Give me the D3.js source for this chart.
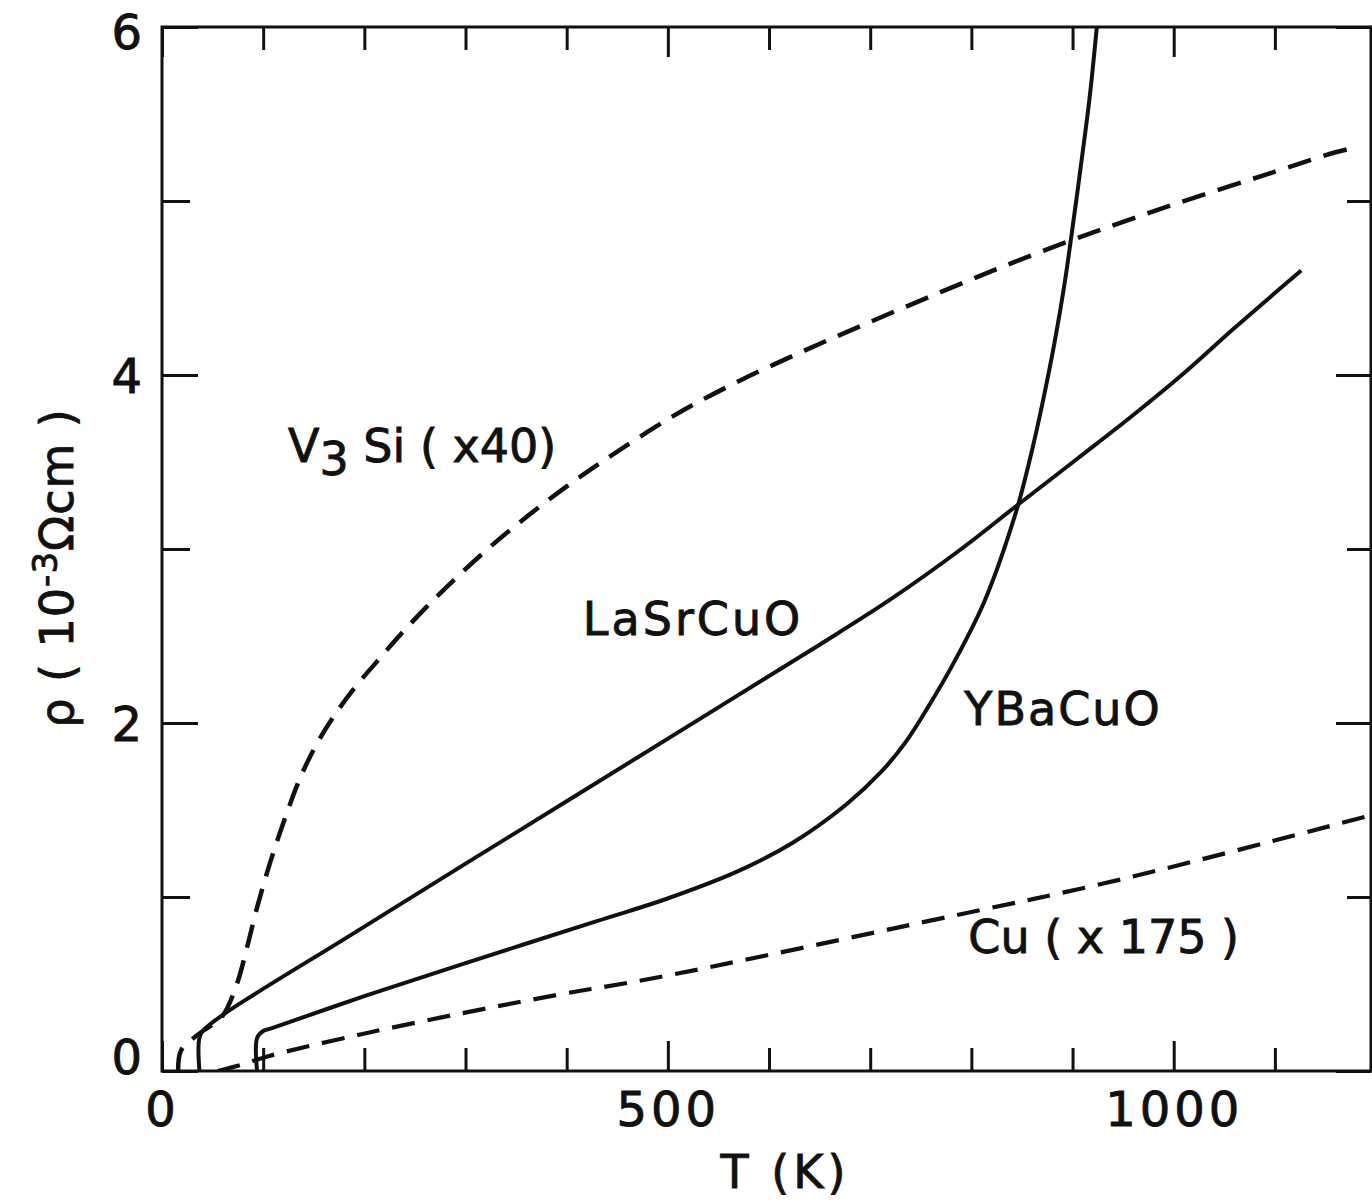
<!DOCTYPE html>
<html><head><meta charset="utf-8">
<script src="https://cdn.jsdelivr.net/npm/d3@7"></script>
<style>
html,body{margin:0;padding:0;background:#fff;}
svg{display:block;}
text{font-family:"DejaVu Sans",sans-serif;fill:#111;stroke:#111;stroke-width:0.9px;}
</style></head><body>
<svg id="chart" width="1372" height="1204"></svg>
<script>
// ---- data ----
const xMajorTicks = [0, 500, 1000];
const xMinorTicks = [100, 200, 300, 400, 600, 700, 800, 900, 1100];
const yMajorTicks = [0, 2, 4, 6];
const yMinorTicks = [1, 3, 5];

const v3siT = [16, 19, 38, 59, 74, 84, 94, 107, 122, 137, 153, 170, 190, 212, 236, 262, 290, 320, 355, 400, 450, 510, 572, 635, 698, 767, 834, 897, 950, 1005, 1085, 1160, 1174];
const v3siR = [0, 0.12, 0.22, 0.31, 0.50, 0.71, 0.94, 1.20, 1.46, 1.69, 1.88, 2.04, 2.20, 2.35, 2.51, 2.67, 2.83, 2.99, 3.16, 3.36, 3.56, 3.78, 3.97, 4.14, 4.30, 4.47, 4.63, 4.77, 4.88, 4.99, 5.14, 5.28, 5.30];

const lasrT = [37, 37, 42, 200, 400, 550, 650, 720, 790, 845, 905, 960, 1010, 1060, 1126];
const lasrR = [0, 0.19, 0.24, 0.83, 1.55, 2.09, 2.45, 2.71, 3.00, 3.25, 3.52, 3.77, 4.01, 4.27, 4.60];

const ybaT = [94, 94, 100, 108, 200, 300, 429, 499, 570, 623, 676, 711, 735, 757, 782, 813, 844, 858, 870, 882, 892, 901, 910, 917, 924];
const ybaR = [0, 0.19, 0.23, 0.245, 0.43, 0.62, 0.86, 0.99, 1.15, 1.31, 1.53, 1.72, 1.89, 2.09, 2.34, 2.70, 3.21, 3.52, 3.83, 4.18, 4.52, 4.89, 5.28, 5.60, 6.0];

const cuT = [55, 75, 105, 196, 295, 393, 492, 764, 947, 1195];
const cuR = [0, 0.03, 0.085, 0.21, 0.33, 0.44, 0.54, 0.87, 1.10, 1.47];

// ---- layout ----
const svg = d3.select("#chart");
const L = 162, R = 1371, T0 = 27, B = 1071;
const x = d3.scaleLinear().domain([0, 1195]).range([L, R]);
const y = d3.scaleLinear().domain([0, 6]).range([B, T0]);

svg.append("defs").append("clipPath").attr("id", "plotclip")
  .append("rect").attr("x", L).attr("y", T0).attr("width", R - L).attr("height", B - T0);

function styleAxis(g) {
  g.select(".domain").remove();
  g.selectAll(".tick line").attr("stroke", "#111").attr("stroke-width", 3);
}

// bottom
svg.append("g").attr("transform", `translate(0,${B})`)
  .call(d3.axisBottom(x).tickValues(xMinorTicks).tickSizeInner(-23).tickSizeOuter(0).tickFormat(""))
  .call(styleAxis);
const xb = svg.append("g").attr("transform", `translate(0,${B})`)
  .call(d3.axisBottom(x).tickValues(xMajorTicks).tickSizeInner(-30).tickSizeOuter(0).tickPadding(21).tickFormat(d3.format("d")))
  .call(styleAxis);
xb.selectAll("text").attr("font-size", 48).attr("font-family", "DejaVu Sans").attr("letter-spacing", 4).attr("fill", "#111");
// top
svg.append("g").attr("transform", `translate(0,${T0})`)
  .call(d3.axisTop(x).tickValues(xMinorTicks).tickSizeInner(-23).tickSizeOuter(0).tickFormat(""))
  .call(styleAxis);
svg.append("g").attr("transform", `translate(0,${T0})`)
  .call(d3.axisTop(x).tickValues(xMajorTicks).tickSizeInner(-30).tickSizeOuter(0).tickFormat(""))
  .call(styleAxis);
// left
svg.append("g").attr("transform", `translate(${L},0)`)
  .call(d3.axisLeft(y).tickValues(yMinorTicks).tickSizeInner(-28).tickSizeOuter(0).tickFormat(""))
  .call(styleAxis);
const yl = svg.append("g").attr("transform", `translate(${L},0)`)
  .call(d3.axisLeft(y).tickValues(yMajorTicks).tickSizeInner(-36).tickSizeOuter(0).tickPadding(20).tickFormat(d3.format("d")))
  .call(styleAxis);
yl.selectAll("text").attr("font-size", 48).attr("font-family", "DejaVu Sans").attr("fill", "#111")
  .attr("dy", d => d === 0 ? "0.05em" : (d === 6 ? "0.44em" : "0.36em"));
// right
svg.append("g").attr("transform", `translate(${R},0)`)
  .call(d3.axisRight(y).tickValues(yMinorTicks).tickSizeInner(-24).tickSizeOuter(0).tickFormat(""))
  .call(styleAxis);
svg.append("g").attr("transform", `translate(${R},0)`)
  .call(d3.axisRight(y).tickValues(yMajorTicks).tickSizeInner(-35).tickSizeOuter(0).tickFormat(""))
  .call(styleAxis);

// frame
svg.append("rect").attr("x", L).attr("y", T0).attr("width", R - L).attr("height", B - T0)
  .attr("fill", "none").attr("stroke", "#111").attr("stroke-width", 3);

// curves
const line = d3.line().x(d => x(d[0])).y(d => y(d[1])).curve(d3.curveCatmullRom.alpha(0.5));
const plot = svg.append("g").attr("clip-path", "url(#plotclip)");
const series = [
  {T: v3siT, R: v3siR, dash: "24,13", w: 4.5},
  {T: lasrT, R: lasrR, dash: null, w: 4},
  {T: ybaT, R: ybaR, dash: null, w: 4},
  {T: cuT, R: cuR, dash: "23,13", w: 4.2}
];
series.forEach(s => {
  plot.append("path").datum(d3.zip(s.T, s.R))
    .attr("d", line).attr("fill", "none").attr("stroke", "#111")
    .attr("stroke-width", s.w).attr("stroke-linejoin", "round")
    .attr("stroke-dasharray", s.dash);
});

// curve labels
const fs = 46;
const v3 = svg.append("text").attr("x", x(124.5)).attr("y", y(3.5)).attr("font-size", fs).attr("letter-spacing", 0);
v3.append("tspan").text("V");
v3.append("tspan").attr("dy", 13).text("3");
v3.append("tspan").attr("dy", -13).text(" Si ( x40)");

svg.append("text").attr("x", x(416)).attr("y", y(2.506)).attr("font-size", fs).attr("letter-spacing", 3).text("LaSrCuO");
svg.append("text").attr("x", x(793)).attr("y", y(1.99)).attr("font-size", fs).attr("letter-spacing", 2).text("YBaCuO");
svg.append("text").attr("x", x(797)).attr("y", y(0.678)).attr("font-size", fs).attr("letter-spacing", 0).text("Cu ( x 175 )");

// axis titles
svg.append("text").attr("x", 785).attr("y", 1188).attr("text-anchor", "middle")
  .attr("font-size", 46).attr("letter-spacing", 4).text("T (K)");
const yt = svg.append("text").attr("transform", "translate(73,568) rotate(-90)")
  .attr("text-anchor", "middle").attr("font-size", 46).attr("letter-spacing", 1);
yt.append("tspan").text("ρ ( 10");
yt.append("tspan").attr("dy", -16).attr("font-size", 34).text("-3");
yt.append("tspan").attr("dy", 16).text("Ωcm )");
</script>
</body></html>
